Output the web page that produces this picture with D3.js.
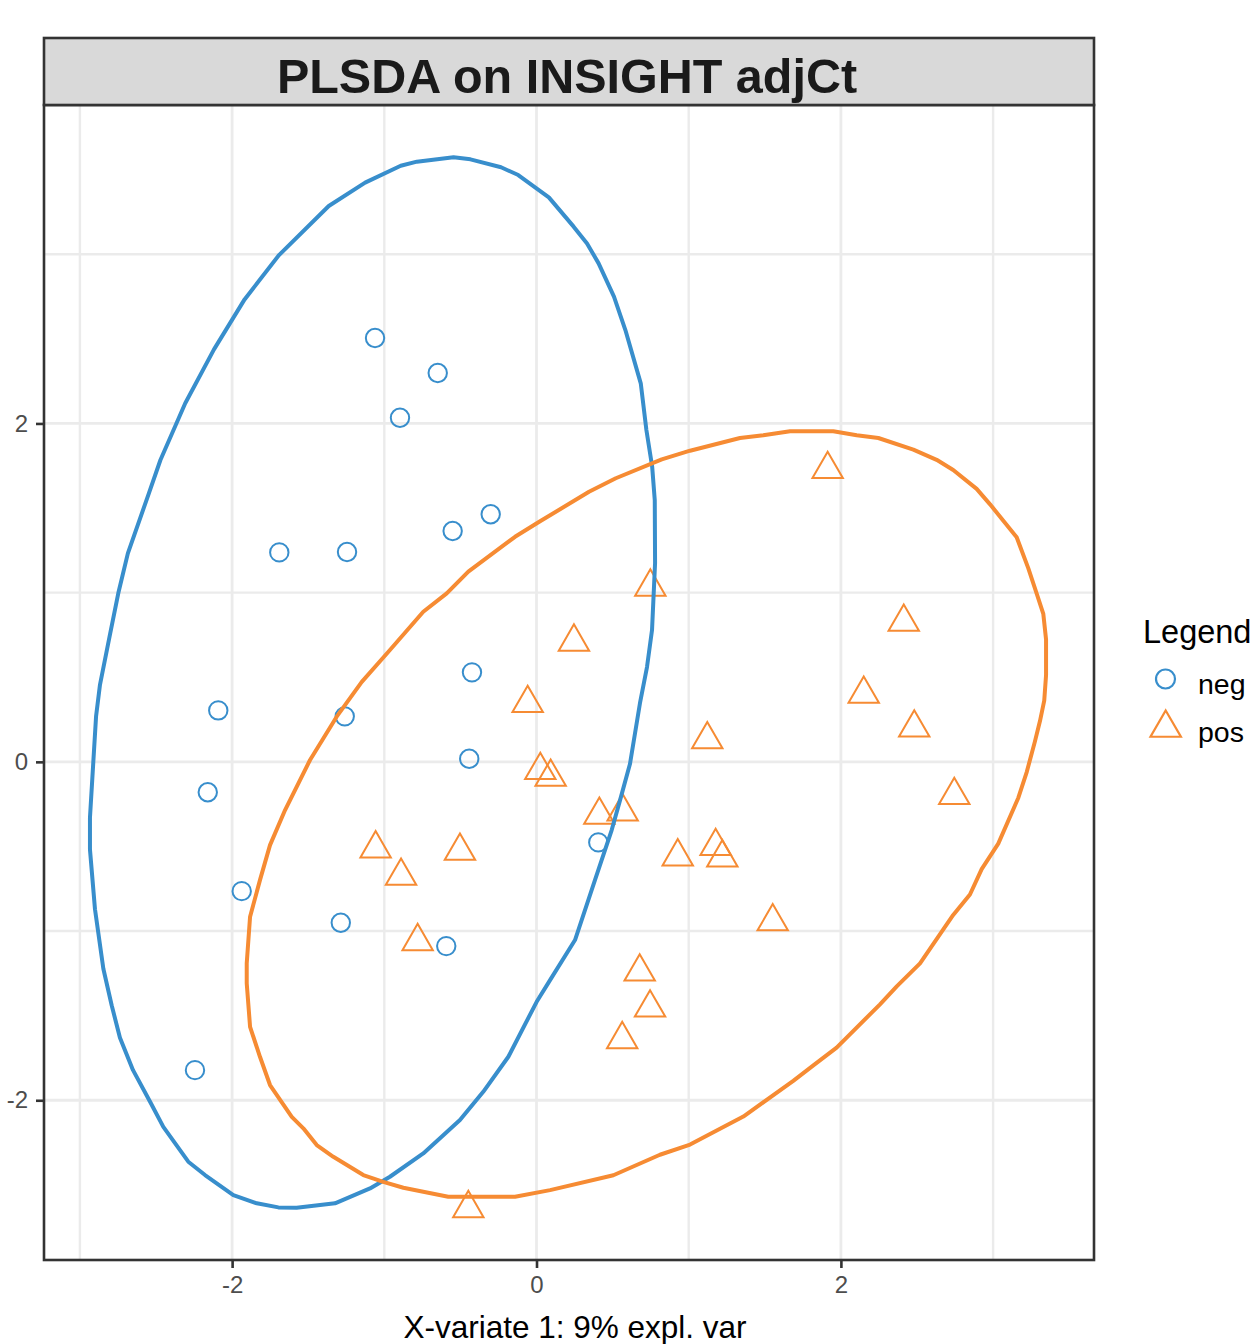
<!DOCTYPE html>
<html>
<head>
<meta charset="utf-8">
<script src="https://cdn.jsdelivr.net/npm/d3@7/dist/d3.min.js"></script>
<style>
  body { margin: 0; background: #fff; }
  svg text { font-family: "Liberation Sans", Arial, Helvetica, sans-serif; }
</style>
</head>
<body>
<div id="chart"></div>
<script>
// sample scores (component 1 / component 2)
var negX = [-1.061, -0.649, -0.897, -0.301, -0.551, -1.690, -1.245, -0.424, -2.091,
            -1.260, -0.442, -2.160, 0.406, -1.937, -1.286, -0.593, -2.244];
var negY = [2.505, 2.298, 2.034, 1.463, 1.364, 1.238, 1.240, 0.529, 0.304,
            0.269, 0.018, -0.180, -0.476, -0.764, -0.951, -1.089, -1.822];

var posX = [1.913, 0.748, 2.413, 0.246, 2.150, -0.058, 2.482, 1.122, 0.025, 0.093,
            2.745, 0.413, 0.566, -1.057, -0.503, 1.177, 0.928, 1.221, -0.890, 1.552,
            -0.781, 0.678, 0.746, 0.563, -0.448];
var posY = [1.729, 1.034, 0.826, 0.709, 0.401, 0.346, 0.201, 0.132, -0.050, -0.090,
            -0.197, -0.314, -0.294, -0.513, -0.527, -0.499, -0.560, -0.566, -0.675, -0.944,
            -1.061, -1.241, -1.453, -1.640, -2.639];

// 95% ellipse outlines
var negEllipse = [[-0.545,3.573],[-0.434,3.561],[-0.233,3.514],[-0.120,3.468],[0.081,3.336],
  [0.244,3.163],[0.332,3.064],[0.408,2.946],[0.509,2.749],[0.584,2.552],[0.685,2.237],
  [0.722,1.961],[0.760,1.744],[0.777,1.547],[0.779,1.175],[0.759,0.779],[0.726,0.560],
  [0.680,0.348],[0.614,-0.013],[0.549,-0.226],[0.494,-0.403],[0.384,-0.699],[0.253,-1.053],
  [0.089,-1.290],[0.001,-1.418],[-0.185,-1.743],[-0.350,-1.950],[-0.503,-2.117],[-0.744,-2.314],
  [-0.963,-2.452],[-1.094,-2.521],[-1.324,-2.609],[-1.576,-2.635],[-1.696,-2.633],[-1.838,-2.609],
  [-1.992,-2.560],[-2.178,-2.442],[-2.288,-2.363],[-2.452,-2.157],[-2.539,-2.009],[-2.651,-1.822],
  [-2.737,-1.630],[-2.791,-1.440],[-2.846,-1.223],[-2.901,-0.871],[-2.934,-0.518],[-2.934,-0.329],
  [-2.894,0.268],[-2.868,0.457],[-2.802,0.755],[-2.748,0.996],[-2.685,1.232],[-2.547,1.587],
  [-2.471,1.784],[-2.308,2.119],[-2.119,2.438],[-1.918,2.733],[-1.692,2.995],[-1.365,3.285],
  [-1.126,3.423],[-0.892,3.523],[-0.786,3.547]];

var posEllipse = [[1.666,1.954],[1.950,1.954],[2.104,1.930],[2.246,1.914],[2.476,1.845],
  [2.629,1.785],[2.738,1.725],[2.892,1.613],[2.980,1.522],[3.155,1.327],[3.231,1.145],
  [3.286,0.995],[3.330,0.874],[3.348,0.723],[3.348,0.512],[3.336,0.362],[3.308,0.241],
  [3.275,0.121],[3.221,-0.060],[3.166,-0.212],[3.034,-0.483],[2.925,-0.634],[2.848,-0.784],
  [2.738,-0.905],[2.520,-1.191],[2.367,-1.327],[2.257,-1.433],[1.972,-1.689],[1.819,-1.794],
  [1.687,-1.885],[1.359,-2.096],[1.009,-2.262],[0.811,-2.322],[0.505,-2.443],[0.089,-2.531],
  [-0.141,-2.570],[-0.284,-2.570],[-0.580,-2.570],[-0.744,-2.541],[-0.875,-2.517],[-1.007,-2.482],
  [-1.138,-2.442],[-1.335,-2.334],[-1.444,-2.265],[-1.532,-2.166],[-1.608,-2.098],[-1.751,-1.910],
  [-1.817,-1.743],[-1.882,-1.566],[-1.904,-1.309],[-1.904,-1.191],[-1.882,-0.915],[-1.817,-0.699],
  [-1.751,-0.492],[-1.652,-0.285],[-1.488,0.011],[-1.313,0.267],[-1.148,0.473],[-0.963,0.661],
  [-0.744,0.887],[-0.590,0.996],[-0.448,1.124],[-0.141,1.330],[0.018,1.419],[0.345,1.596],
  [0.521,1.676],[0.823,1.788],[1.009,1.839],[1.337,1.914],[1.490,1.930]];

var groups = ["neg", "pos"];
var colors = ["#388ECC", "#F68B33"];
var majorTicks = [-2, 0, 2];
var minorX = [-3, -1, 1, 3];
var minorY = [-1, 1, 3];

(function () {
    var W = 1260, H = 1344;
    var panel = {left: 44, right: 1094, top: 105, bottom: 1260};

    var svg = d3.select("#chart")
                .append("svg")
                .attr("width", W)
                .attr("height", H);

    var x = d3.scaleLinear().domain([-3.236, 3.663]).range([panel.left, panel.right]);
    var y = d3.scaleLinear().domain([-2.944, 3.882]).range([panel.bottom, panel.top]);

    // grid
    var grid = svg.append("g");
    grid.selectAll(".vx")
        .data(minorX.concat(majorTicks))
        .enter().append("line")
        .attr("x1", function(d){ return x(d); })
        .attr("x2", function(d){ return x(d); })
        .attr("y1", panel.top).attr("y2", panel.bottom)
        .attr("stroke", "#EBEBEB")
        .attr("stroke-width", function(d){ return majorTicks.indexOf(d) >= 0 ? 2.8 : 2.4; });
    grid.selectAll(".hy")
        .data(minorY.concat(majorTicks))
        .enter().append("line")
        .attr("y1", function(d){ return y(d); })
        .attr("y2", function(d){ return y(d); })
        .attr("x1", panel.left).attr("x2", panel.right)
        .attr("stroke", "#EBEBEB")
        .attr("stroke-width", function(d){ return majorTicks.indexOf(d) >= 0 ? 2.8 : 2.4; });

    // points
    var neg = negX.map(function(v, i){ return {x: v, y: negY[i]}; });
    var pos = posX.map(function(v, i){ return {x: v, y: posY[i]}; });

    svg.append("g").selectAll("circle")
        .data(neg)
        .enter().append("circle")
        .attr("cx", function(d){ return x(d.x); })
        .attr("cy", function(d){ return y(d.y); })
        .attr("r", 9.2)
        .attr("fill", "none")
        .attr("stroke", colors[0])
        .attr("stroke-width", 2);

    var tri = d3.symbol().type(d3.symbolTriangle).size(400);
    svg.append("g").selectAll("path")
        .data(pos)
        .enter().append("path")
        .attr("d", tri)
        .attr("transform", function(d){ return "translate(" + x(d.x) + "," + y(d.y) + ")"; })
        .attr("fill", "none")
        .attr("stroke", colors[1])
        .attr("stroke-width", 2);

    // ellipses
    var line = d3.line()
                 .x(function(d){ return x(d[0]); })
                 .y(function(d){ return y(d[1]); })
                 .curve(d3.curveLinearClosed);
    svg.append("path")
       .attr("d", line(negEllipse))
       .attr("fill", "none")
       .attr("stroke", colors[0])
       .attr("stroke-width", 4)
       .attr("stroke-linejoin", "round");
    svg.append("path")
       .attr("d", line(posEllipse))
       .attr("fill", "none")
       .attr("stroke", colors[1])
       .attr("stroke-width", 4)
       .attr("stroke-linejoin", "round");

    // panel border
    svg.append("rect")
       .attr("x", panel.left).attr("y", panel.top)
       .attr("width", panel.right - panel.left)
       .attr("height", panel.bottom - panel.top)
       .attr("fill", "none")
       .attr("stroke", "#333333")
       .attr("stroke-width", 2.6);

    // strip with title
    svg.append("rect")
       .attr("x", panel.left).attr("y", 38)
       .attr("width", panel.right - panel.left)
       .attr("height", panel.top - 38)
       .attr("fill", "#D9D9D9")
       .attr("stroke", "#333333")
       .attr("stroke-width", 2.6);
    svg.append("text")
       .attr("x", (panel.left + panel.right) / 2 - 2)
       .attr("y", 93)
       .attr("text-anchor", "middle")
       .attr("font-size", 48.5)
       .attr("font-weight", "bold")
       .attr("fill", "#1A1A1A")
       .text("PLSDA on INSIGHT adjCt");

    // axes
    var xAxis = svg.append("g")
       .attr("transform", "translate(0," + panel.bottom + ")")
       .call(d3.axisBottom(x).tickValues(majorTicks).tickSize(8).tickPadding(8)
             .tickFormat(function(d){ return d < 0 ? "-" + Math.abs(d) : d; }));
    var yAxis = svg.append("g")
       .attr("transform", "translate(" + panel.left + ",0)")
       .call(d3.axisLeft(y).tickValues(majorTicks).tickSize(8).tickPadding(8)
             .tickFormat(function(d){ return d < 0 ? "-" + Math.abs(d) : d; }));
    [xAxis, yAxis].forEach(function(a){
        a.select(".domain").remove();
        a.selectAll(".tick line").attr("stroke", "#333333").attr("stroke-width", 2.6);
        a.selectAll(".tick text")
         .attr("fill", "#4D4D4D")
         .attr("font-size", 24)
         .style("font-family", "\"Liberation Sans\", Arial, sans-serif");
    });

    svg.append("text")
       .attr("x", (panel.left + panel.right) / 2 + 6)
       .attr("y", 1338)
       .attr("text-anchor", "middle")
       .attr("font-size", 31.5)
       .attr("fill", "#000")
       .text("X-variate 1: 9% expl. var");

    // legend
    var lg = svg.append("g");
    lg.append("text")
      .attr("x", 1143).attr("y", 643)
      .attr("font-size", 32.5)
      .attr("fill", "#000")
      .text("Legend");
    lg.append("circle")
      .attr("cx", 1165.5).attr("cy", 679)
      .attr("r", 9.5)
      .attr("fill", "none")
      .attr("stroke", colors[0])
      .attr("stroke-width", 2.2);
    lg.append("path")
      .attr("d", tri)
      .attr("transform", "translate(1165.7,728)")
      .attr("fill", "none")
      .attr("stroke", colors[1])
      .attr("stroke-width", 2.2);
    lg.selectAll(".lab")
      .data(groups)
      .enter().append("text")
      .attr("x", 1198)
      .attr("y", function(d, i){ return 694 + i * 48; })
      .attr("font-size", 28.5)
      .attr("fill", "#000")
      .text(function(d){ return d; });
})();
</script>
</body>
</html>
